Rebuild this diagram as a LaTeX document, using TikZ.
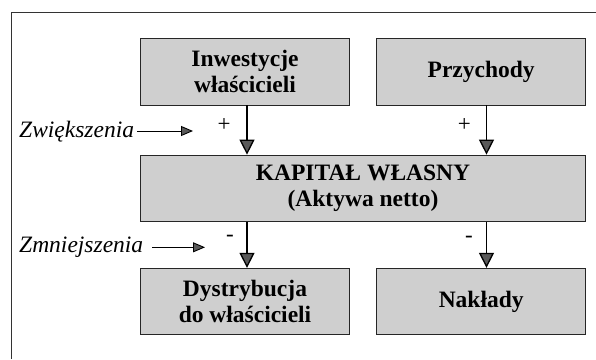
\documentclass[tikz,border=0pt]{standalone}
\usepackage{fontspec}
\setmainfont{Liberation Serif}
\usetikzlibrary{arrows.meta}
\begin{document}
\begin{tikzpicture}[x=1pt,y=-1pt,
  box/.style={draw=black!85, line width=0.8pt, fill=black!19, minimum width=209pt, minimum height=66.5pt, inner sep=0pt, align=center, font=\fontsize{23.5}{25.5}\selectfont\bfseries},
  vflow/.style={draw=black, line width=1.3pt, -{Triangle[width=15pt,length=15pt,fill=black!65]}},
  hflow/.style={draw=black, line width=0.9pt, -{Triangle[width=10pt,length=12pt,fill=black!65]}},
  lbl/.style={font=\fontsize{23.5}{26}\selectfont\itshape, inner sep=0pt, anchor=base west},
  sgn/.style={font=\fontsize{23}{24}\selectfont, inner sep=0pt}]
\useasboundingbox (0,0) rectangle (596,359);
\draw[black!80, line width=0.9pt] (11,359) -- (11,12) -- (596,12);
\node[box] (inw) at (245,71.7) {Inwestycje\\właścicieli};
\node[box] (prz) at (481.2,71.7) {Przychody};
\node[box, minimum width=445pt] (kap) at (363,188.3) {KAPITAŁ WŁASNY\\(Aktywa netto)};
\node[box] (dys) at (245,301.5) {Dystrybucja\\do właścicieli};
\node[box] (nak) at (481.2,301.5) {Nakłady};
\coordinate (xa) at (247,0);
\coordinate (xb) at (486.5,0);
\draw[vflow] (inw.south -| xa) -- (kap.north -| xa);
\draw[vflow] (prz.south -| xb) -- (kap.north -| xb);
\draw[vflow] (kap.south -| xa) -- (dys.north -| xa);
\draw[vflow] (kap.south -| xb) -- (nak.north -| xb);
\node[sgn] (p1) at (224,125.5) {+};
\node[sgn] (p2) at (464.3,125.5) {+};
\node[sgn] (m1) at (230,238) {-};
\node[sgn] (m2) at (469,239) {-};
\node[lbl] (zw) at (19,137.5) {Zwiększenia};
\node[lbl] (zm) at (19,252.5) {Zmniejszenia};
\coordinate (zws) at (137,131);
\coordinate (zwe) at (193,131);
\coordinate (zms) at (152,247.3);
\coordinate (zme) at (205,247.3);
\draw[hflow] (zws) -- (zwe);
\draw[hflow] (zms) -- (zme);
\end{tikzpicture}
\end{document}
